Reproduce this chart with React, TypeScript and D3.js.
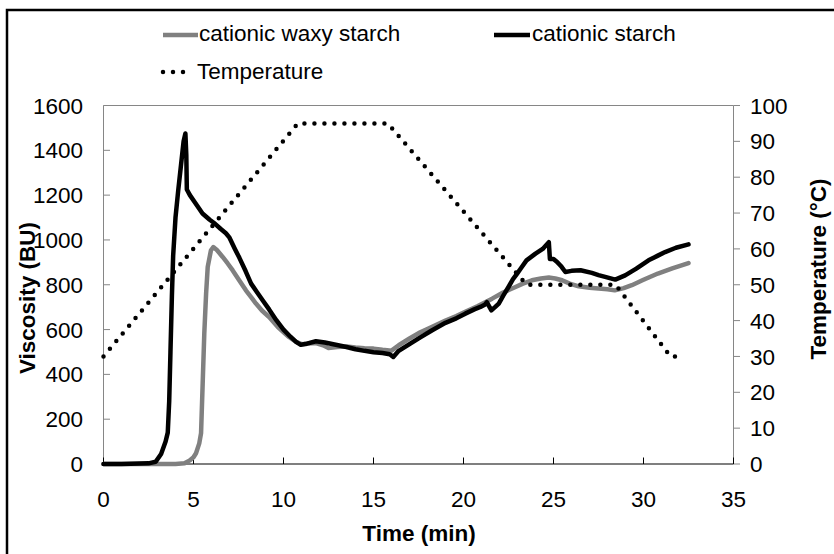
import React from "react";
import * as d3 from "d3";

// Time (min) and viscosity (BU) for each starch
const waxyTime = [0, 1, 2, 3, 4, 4.5, 4.77, 5.0, 5.14, 5.32, 5.42, 5.51, 5.6, 5.7, 5.79, 5.97, 6.1, 6.3, 6.62, 6.9, 7.17, 7.5, 7.91, 8.2, 8.47, 8.8, 9.2, 9.7, 10.3, 10.7, 11.0, 11.4, 11.8, 12.2, 12.5, 13.0, 13.5, 14.0, 14.5, 15.0, 15.5, 16.0, 16.4, 17.0, 17.6, 18.26, 19.0, 19.6, 20.1, 20.8, 21.59, 22.2, 22.89, 23.3, 23.8, 24.3, 24.74, 25.1, 25.48, 25.9, 26.4, 27.0, 27.5, 28.0, 28.4, 28.9, 29.35, 30.0, 30.8, 31.6, 32.5];
const waxyVisc = [0, 0, 0, 0, 0, 3, 15, 30, 48, 92, 138, 360, 583, 760, 880, 954, 968, 955, 924, 895, 865, 825, 775, 745, 716, 685, 656, 610, 567, 545, 535, 538, 540, 530, 518, 522, 524, 520, 517, 515, 510, 506, 530, 560, 588, 612, 640, 660, 679, 705, 738, 765, 790, 805, 820, 828, 832, 828, 820, 805, 793, 787, 783, 780, 775, 785, 798, 822, 850, 873, 897];

const starchTime = [0, 1, 2, 2.5, 2.9, 3.2, 3.45, 3.57, 3.65, 3.72, 3.8, 3.87, 4.0, 4.15, 4.3, 4.45, 4.55, 4.6, 4.63, 4.8, 5.1, 5.5, 5.9, 6.2, 6.5, 6.8, 7.0, 7.3, 7.55, 7.9, 8.2, 8.5, 8.85, 9.2, 9.6, 10.0, 10.4, 10.7, 10.96, 11.3, 11.8, 12.3, 12.9, 13.5, 14.0, 14.5, 15.0, 15.5, 15.9, 16.1, 16.4, 17.0, 17.6, 18.26, 19.0, 19.6, 20.1, 20.6, 20.94, 21.2, 21.3, 21.45, 21.55, 21.75, 21.96, 22.2, 22.5, 22.75, 22.98, 23.2, 23.5, 24.0, 24.4, 24.74, 24.8, 25.0, 25.2, 25.45, 25.66, 26.0, 26.5, 27.13, 27.5, 27.87, 28.43, 28.98, 29.6, 30.28, 30.8, 31.2, 31.8, 32.5];
const starchVisc = [0, 0, 2, 3, 10, 45, 100, 140, 280, 500, 750, 930, 1100, 1220, 1330, 1440, 1475, 1380, 1225, 1200, 1165, 1118, 1090, 1072, 1050, 1030, 1010, 960, 920, 860, 805, 770, 730, 690, 642, 600, 567, 545, 532, 537, 548, 542, 532, 522, 512, 505, 499, 495, 490, 478, 505, 535, 565, 597, 630, 650, 671, 690, 701, 712, 722, 700, 686, 700, 716, 750, 790, 825, 850, 875, 909, 939, 960, 990, 915, 915, 902, 880, 857, 862, 865, 853, 843, 835, 823, 842, 872, 909, 930, 946, 965, 980];

// Temperature programme (°C)
const tempTime = [0, 10.8, 15.8, 23.5, 28.45, 31.5, 32.1];
const tempValue = [30, 95, 95, 50, 50, 30, 30];

const timeTicks = [0, 5, 10, 15, 20, 25, 30, 35];
const viscTicks = [0, 200, 400, 600, 800, 1000, 1200, 1400, 1600];
const tempTicks = [0, 10, 20, 30, 40, 50, 60, 70, 80, 90, 100];

const FONT = "'Liberation Sans', Arial, sans-serif";
const FS = 22.5;

export default function App() {
  const x = d3.scaleLinear().domain([0, 35]).range([103.5, 733.5]);
  const yL = d3.scaleLinear().domain([0, 1600]).range([464, 105.5]);
  const yR = d3.scaleLinear().domain([0, 100]).range([464, 105.5]);

  const pts = (t: number[], v: number[]) => t.map((tt, i) => [tt, v[i]] as [number, number]);

  const viscLine = d3
    .line<[number, number]>()
    .x((d) => x(d[0]))
    .y((d) => yL(d[1]))
    .curve(d3.curveLinear);
  const tempLine = d3
    .line<[number, number]>()
    .x((d) => x(d[0]))
    .y((d) => yR(d[1]));

  const axisGray = "#868686";

  return (
    <svg
      width={834}
      height={554}
      style={{ position: "absolute", left: 0, top: 0, background: "#fff" }}
      fontFamily={FONT}
    >
      <rect x={0} y={0} width={834} height={554} fill="#fff" />
      {/* chart frame */}
      <rect x={7} y={10} width={840} height={560} fill="none" stroke="#000" strokeWidth={2.5} />

      {/* plot area border */}
      <line x1={x(0)} x2={x(35)} y1={yL(1600)} y2={yL(1600)} stroke={axisGray} strokeWidth={1} />
      <line x1={x(0)} x2={x(0)} y1={yL(0)} y2={yL(1600)} stroke={axisGray} strokeWidth={1} />
      <line x1={x(35)} x2={x(35)} y1={yL(0)} y2={yL(1600)} stroke={axisGray} strokeWidth={1} />

      {/* left axis */}
      {viscTicks.map((v) => (
        <g key={"vl" + v}>
          <line x1={x(0)} x2={x(0) + 6.5} y1={yL(v)} y2={yL(v)} stroke={axisGray} />
          <text x={83} y={yL(v)} dy="0.36em" textAnchor="end" fontSize={FS} fill="#000">
            {v}
          </text>
        </g>
      ))}

      {/* right axis */}
      {tempTicks.map((v) => (
        <g key={"tr" + v}>
          <line x1={x(35)} x2={x(35) + 6.5} y1={yR(v)} y2={yR(v)} stroke={axisGray} />
          <text x={750} y={yR(v)} dy="0.36em" textAnchor="start" fontSize={FS} fill="#000">
            {v}
          </text>
        </g>
      ))}

      {/* bottom axis */}
      <line x1={x(0)} x2={x(35)} y1={yL(0)} y2={yL(0)} stroke="#000" strokeWidth={1.2} />
      {timeTicks.map((t) => (
        <g key={"tx" + t}>
          <line x1={x(t)} x2={x(t)} y1={yL(0)} y2={yL(0) - 6.5} stroke="#000" />
          <text x={x(t)} y={507} textAnchor="middle" fontSize={FS} fill="#000">
            {t}
          </text>
        </g>
      ))}

      {/* axis titles */}
      <text x={419} y={541} textAnchor="middle" fontSize={FS} fontWeight="bold">
        Time (min)
      </text>
      <text
        transform="translate(35,298) rotate(-90)"
        textAnchor="middle"
        fontSize={FS}
        fontWeight="bold"
      >
        Viscosity (BU)
      </text>
      <text
        transform="translate(826,269) rotate(-90)"
        textAnchor="middle"
        fontSize={FS}
        fontWeight="bold"
      >
        Temperature (°C)
      </text>

      {/* series */}
      <path
        d={viscLine(pts(waxyTime, waxyVisc)) || ""}
        fill="none"
        stroke="#808080"
        strokeWidth={4.5}
        strokeLinejoin="round"
        strokeLinecap="round"
      />
      <path
        d={viscLine(pts(starchTime, starchVisc)) || ""}
        fill="none"
        stroke="#000"
        strokeWidth={4.5}
        strokeLinejoin="round"
        strokeLinecap="round"
      />
      <path
        d={tempLine(pts(tempTime, tempValue)) || ""}
        fill="none"
        stroke="#000"
        strokeWidth={4.5}
        strokeDasharray="0 10"
        strokeLinecap="round"
      />

      {/* legend */}
      <line x1={163} x2={198} y1={35} y2={35} stroke="#808080" strokeWidth={4.5} />
      <text x={199} y={41} fontSize={FS}>
        cationic waxy starch
      </text>
      <line x1={494} x2={530} y1={35} y2={35} stroke="#000" strokeWidth={4.5} />
      <text x={532} y={41} fontSize={FS}>
        cationic starch
      </text>
      <line
        x1={163}
        x2={184}
        y1={72}
        y2={72}
        stroke="#000"
        strokeWidth={4.5}
        strokeDasharray="0 10"
        strokeLinecap="round"
      />
      <text x={197} y={79} fontSize={FS}>
        Temperature
      </text>
    </svg>
  );
}
